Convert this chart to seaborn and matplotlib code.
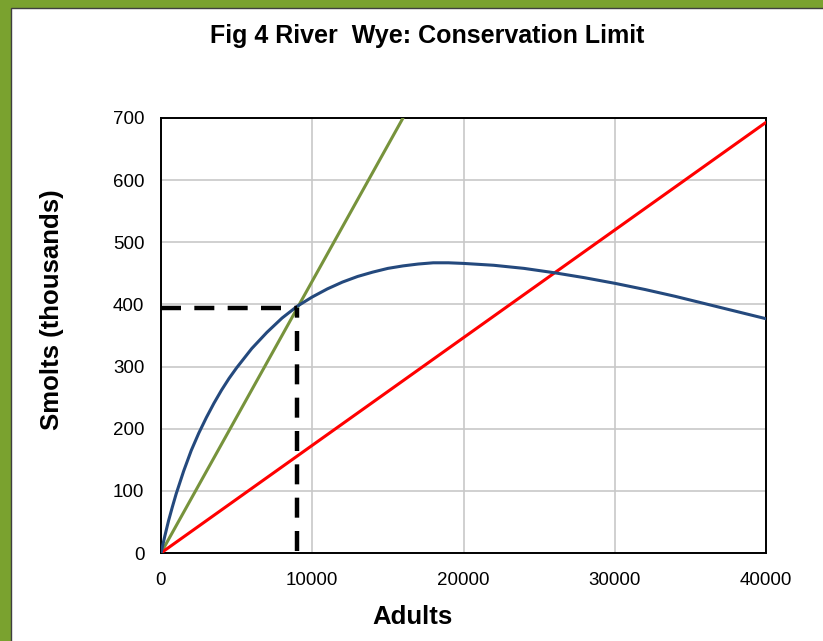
import matplotlib
matplotlib.use("Agg")
import matplotlib.pyplot as plt
from matplotlib.patches import Rectangle
import seaborn as sns
import pandas as pd

# Stock-recruitment curve (smolts, thousands) against adult spawners
adults_curve = [0, 250, 500, 750, 1000, 1500, 2000, 2500, 3000, 3500, 4000,
                4500, 5000, 6000, 7000, 8000, 9000, 10000, 11000, 12000, 13000,
                14000, 15000, 16000, 17000, 18000, 19000, 20000, 22000, 24000,
                26000, 28000, 30000, 32000, 34000, 36000, 38000, 40000]
smolts_curve = [0, 27, 52, 74, 95, 132, 165, 193, 218, 241, 262,
                281, 298, 329, 355, 378, 397, 412, 425, 436, 445,
                452, 458, 462, 465, 467, 467, 466, 463, 458,
                451, 443, 434, 424, 413, 401, 389, 377]

# Replacement lines
adults_green = [0, 16000]
smolts_green = [0, 700]
adults_red = [0, 40000]
smolts_red = [0, 693]

# Conservation limit
cl_adults = 9000
cl_smolts = 394

x_ticks = [0, 10000, 20000, 30000, 40000]
y_ticks = [0, 100, 200, 300, 400, 500, 600, 700]

sns.set_style("white")
plt.rcParams["font.family"] = ["Liberation Sans", "DejaVu Sans"]
plt.rcParams["text.color"] = "black"

W, H = 823, 641
fig = plt.figure(figsize=(W / 100, H / 100), dpi=100)
fig.patch.set_facecolor("#7AA22F")
fig.patches.append(Rectangle((11 / W, -0.05), 1.1, 1.05 - 8 / H,
                             transform=fig.transFigure, facecolor="white",
                             edgecolor="#3F3F3F", linewidth=1.0, zorder=-5))

ax = fig.add_axes([161 / W, 1 - 553 / H, (766 - 161) / W, (553 - 118) / H])
ax.set_zorder(2)
ax.set_facecolor("white")

curve_df = pd.DataFrame({"Adults": adults_curve, "Smolts": smolts_curve})
green_df = pd.DataFrame({"Adults": adults_green, "Smolts": smolts_green})
red_df = pd.DataFrame({"Adults": adults_red, "Smolts": smolts_red})

sns.lineplot(data=curve_df, x="Adults", y="Smolts", ax=ax, color="#24497D",
             linewidth=2.2, zorder=4)
sns.lineplot(data=green_df, x="Adults", y="Smolts", ax=ax, color="#77933C",
             linewidth=2.2, zorder=3)
sns.lineplot(data=red_df, x="Adults", y="Smolts", ax=ax, color="#FF0000",
             linewidth=2.2, zorder=3)

dash = (0, (4.5, 3))
ax.plot([cl_adults, cl_adults], [4, cl_smolts], color="black", linewidth=3.2,
        linestyle=dash, zorder=5)
ax.plot([0, cl_adults], [cl_smolts, cl_smolts], color="black", linewidth=3.2,
        linestyle=dash, zorder=5)

ax.set_xlim(0, 40000)
ax.set_ylim(0, 700)
ax.set_xticks(x_ticks)
ax.set_yticks(y_ticks)
ax.set_xticklabels([str(v) for v in x_ticks])
ax.set_yticklabels([str(v) for v in y_ticks])
ax.tick_params(axis="both", labelsize=13.5, length=6, width=1.2,
               direction="out", colors="black", labelcolor="black", pad=6)
ax.tick_params(axis="x", pad=8)
ax.grid(True, color="#C8C8C8", linewidth=1.2)
ax.set_axisbelow(True)
for s in ax.spines.values():
    s.set_color("black")
    s.set_linewidth(1.4)
    s.set_visible(True)
ax.set_xlabel("")
ax.set_ylabel("")

fig.text(427 / W, 1 - 36 / H, "Fig 4 River  Wye: Conservation Limit",
         ha="center", va="center", fontsize=18, fontweight="bold",
         color="black")
fig.text(412 / W, 1 - 617 / H, "Adults", ha="center", va="center",
         fontsize=18.5, fontweight="bold", color="black")
fig.text(52 / W, 1 - 310 / H, "Smolts (thousands)", ha="center", va="center",
         rotation=90, fontsize=18.5, fontweight="bold", color="black")

fig.savefig("out.png", dpi=100, facecolor=fig.get_facecolor())
